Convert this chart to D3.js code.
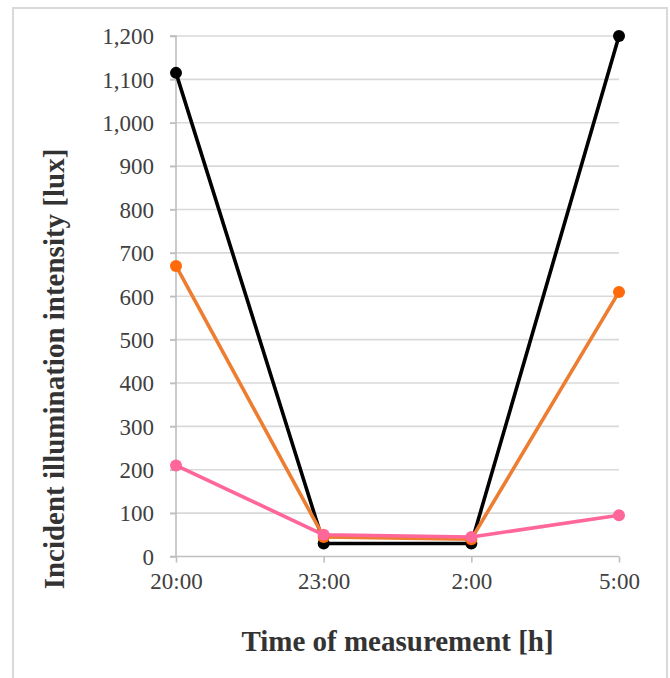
<!DOCTYPE html>
<html>
<head>
<meta charset="utf-8">
<script src="https://cdn.jsdelivr.net/npm/d3@7"></script>
<style>
  html, body { margin: 0; padding: 0; background: #fff; }
  svg { display: block; }
</style>
</head>
<body>
<svg id="chart" width="670" height="678"></svg>
<script>
const categories = ["20:00", "23:00", "2:00", "5:00"];
const yTicks = [0, 100, 200, 300, 400, 500, 600, 700, 800, 900, 1000, 1100, 1200];
const seriesBlack = [1115, 30, 30, 1200];
const seriesOrange = [670, 45, 40, 610];
const seriesPink = [210, 50, 45, 95];
const xTitle = "Time of measurement [h]";
const yTitle = "Incident illumination intensity [lux]";

(function () {
const series = [
  { values: seriesBlack, line: "#000000", marker: "#000000" },
  { values: seriesOrange, line: "#ED7D31", marker: "#FF6A0A" },
  { values: seriesPink, line: "#FF6699", marker: "#FF6699" }
];

const svg = d3.select("#chart");
const pLeft = 176, pRight = 619, pTop = 36, pBottom = 556.5;
const serif = "'Liberation Serif', 'Times New Roman', serif";

// outer border
svg.append("rect")
  .attr("x", 13).attr("y", 8).attr("width", 654).attr("height", 700)
  .attr("fill", "none").attr("stroke", "#d9d9d9").attr("stroke-width", 2);

const x = d3.scalePoint().domain(categories).range([pLeft, pRight]).padding(0);
const y = d3.scaleLinear().domain([0, 1200]).range([pBottom, pTop]);

// gridlines
svg.append("g").selectAll("line").data(yTicks.filter(d => d > 0)).join("line")
  .attr("x1", pLeft - 6).attr("x2", pRight)
  .attr("y1", d => y(d)).attr("y2", d => y(d))
  .attr("stroke", "#d9d9d9").attr("stroke-width", 1.6);

// y axis
const yAxis = d3.axisLeft(y).tickValues(yTicks).tickSize(6).tickPadding(16)
  .tickFormat(d3.format(","));
const gy = svg.append("g").attr("transform", `translate(${pLeft},0)`).call(yAxis);
gy.select(".domain").attr("stroke", "#bfbfbf").attr("stroke-width", 1.6)
  .attr("d", `M-6,${pTop}H0V${pBottom}`);
gy.selectAll(".tick line").attr("stroke", "#bfbfbf").attr("stroke-width", 1.6);
gy.selectAll(".tick text")
  .attr("font-family", serif)
  .attr("font-size", "23px").attr("fill", "#404040").attr("dy", "0.34em");

// x axis
const xAxis = d3.axisBottom(x).tickSize(6).tickPadding(9);
const gx = svg.append("g").attr("transform", `translate(0,${pBottom})`).call(xAxis);
gx.select(".domain").attr("stroke", "#bfbfbf").attr("stroke-width", 1.6)
  .attr("d", `M${pLeft - 6},0H${pRight}`);
gx.selectAll(".tick line").attr("stroke", "#bfbfbf").attr("stroke-width", 1.6);
gx.selectAll(".tick text")
  .attr("font-family", serif)
  .attr("font-size", "23px").attr("fill", "#404040").attr("dy", "0.75em");

// lines and markers
const line = d3.line().x((d, i) => x(categories[i])).y(d => y(d));
series.forEach(s => {
  svg.append("path").datum(s.values)
    .attr("d", line).attr("fill", "none")
    .attr("stroke", s.line).attr("stroke-width", 3.6)
    .attr("stroke-linejoin", "round");
  svg.append("g").selectAll("circle").data(s.values).join("circle")
    .attr("cx", (d, i) => x(categories[i])).attr("cy", d => y(d))
    .attr("r", 6).attr("fill", s.marker);
});

// titles
svg.append("text")
  .attr("x", (pLeft + pRight) / 2).attr("y", 651)
  .attr("text-anchor", "middle")
  .attr("font-family", serif)
  .attr("font-weight", "bold").attr("font-size", "29px").attr("fill", "#333333")
  .text(xTitle);

svg.append("text")
  .attr("transform", "translate(64,369) rotate(-90)")
  .attr("text-anchor", "middle")
  .attr("font-family", serif)
  .attr("font-weight", "bold").attr("font-size", "29px").attr("fill", "#333333")
  .text(yTitle);
})();
</script>
</body>
</html>
